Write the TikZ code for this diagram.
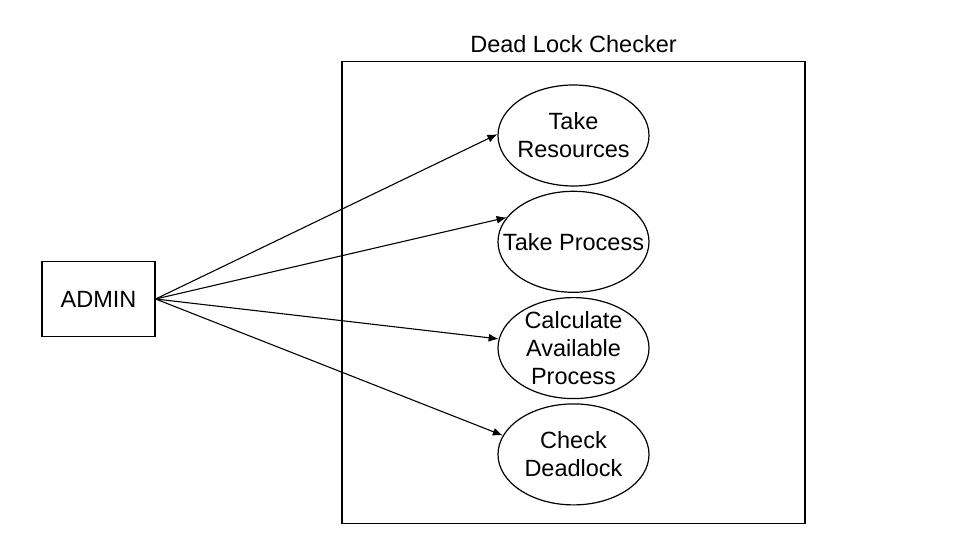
\documentclass[tikz,border=0pt]{standalone}
\usepackage{fontspec}
\setmainfont{Liberation Sans}
\usetikzlibrary{shapes.geometric,arrows.meta,positioning}
\begin{document}
\begin{tikzpicture}[
    x=1pt, y=1pt,
    font=\fontsize{23.5}{28}\selectfont,
    node distance=106.3pt,
    actor/.style={rectangle, draw, line width=1.2pt, minimum width=113pt, minimum height=75pt},
    usecase/.style={ellipse, draw, line width=1.2pt, align=center, inner xsep=-18pt, inner ysep=-15pt, minimum width=151pt, minimum height=101pt},
    system/.style={rectangle, draw, line width=1.2pt, minimum width=463pt, minimum height=462pt},
    arrow/.style={-{Latex[length=10pt,width=8pt]}, line width=1.1pt}
]
    \useasboundingbox (0,0) rectangle (969,-545);

    % System boundary
    \node[system] (checker) at (573.5,-292.5) {};
    \node[above=4.5pt of checker] (title) {Dead Lock Checker};

    % Actor
    \node[actor] (admin) at (98.5,-299) {ADMIN};

    % Use cases
    \node[usecase] (resources) at (573.5,-135.5) {Take\\Resources};
    \node[usecase, below of=resources] (process) {Take Process};
    \node[usecase, below of=process] (available) {Calculate\\Available\\Process};
    \node[usecase, below of=available] (deadlock) {Check\\Deadlock};

    % Connections
    \draw[arrow] (admin.east) -- (resources.179);
    \draw[arrow] (admin.east) -- (process.160);
    \draw[arrow] (admin.east) -- (available.173);
    \draw[arrow] (admin.east) -- (deadlock.165);
\end{tikzpicture}
\end{document}
